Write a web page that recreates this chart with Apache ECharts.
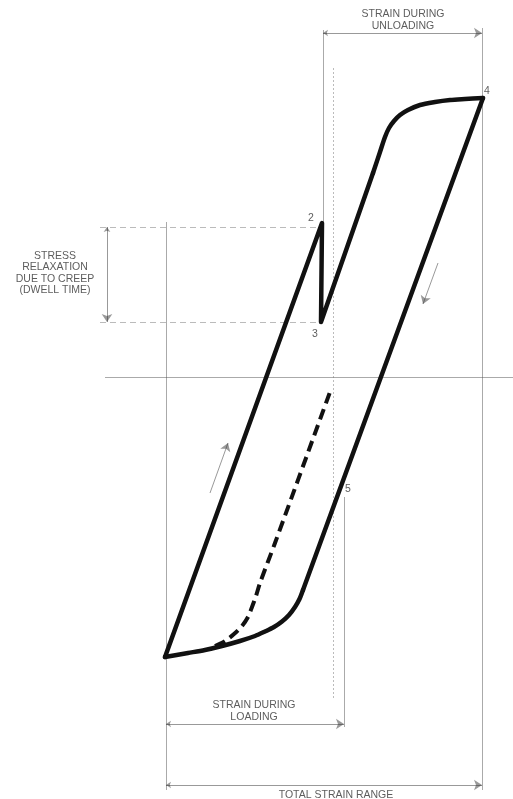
<!DOCTYPE html>
<html>
<head>
<meta charset="utf-8">
<script src="https://cdn.jsdelivr.net/npm/echarts@6/dist/echarts.min.js"></script>
<style>
  html, body { margin: 0; padding: 0; background: #fff; }
  #chart { width: 513px; height: 799px; }
</style>
</head>
<body>
<div id="chart"></div>
<script>
// Hysteresis loop with a creep dwell: strain (x) vs stress (y), arbitrary units.

// Loading branch from the compressive tip up to 2, relaxation 2 -> 3, reloading toward 4
const loadingBranch = [[-16.8, -28.0], [-1.1, 15.4], [-1.2, 5.5], [4.0, 20.4]];
// Knee rounding into the tensile tip 4
const upperKnee = [[4.0, 20.4], [4.7, 22.5], [5.2, 24.0], [5.6, 24.9], [6.1, 25.6], [6.7, 26.2],
                   [7.5, 26.7], [8.7, 27.2], [10.2, 27.5], [11.7, 27.7], [13.2, 27.8], [15.0, 27.9]];
// Unloading branch from 4 down, passing 5
const unloadingBranch = [[15.0, 27.9], [-3.0, -21.3]];
// Knee rounding back into the compressive tip
const lowerKnee = [[-3.0, -21.3], [-3.35, -22.2], [-3.8, -23.0], [-4.4, -23.8], [-5.1, -24.45], [-5.9, -25.0],
                   [-6.8, -25.45], [-7.8, -25.9], [-9.3, -26.4], [-11.1, -26.9], [-12.8, -27.3],
                   [-14.5, -27.6], [-16.8, -28.0]];
// Initial (first-cycle) curve, dashed
const initialCurve = [[-11.8, -26.9], [-10.8, -26.4], [-9.9, -25.7], [-9.1, -24.9], [-8.5, -24.0],
                      [-8.1, -23.0], [-7.7, -21.9], [-7.3, -20.6], [-5.8, -16.6], [-0.3, -1.5]];

// Reference / extension lines: [x1, y1, x2, y2, style]
const guideLines = [
  [-22.8, 0, 18.0, 0, 'solid'],          // zero-stress axis
  [-16.7, 15.5, -16.7, -41.3, 'solid'],  // left extent
  [-1.0, 34.7, -1.0, 15.5, 'solid'],     // start of unloading
  [0, 30.9, 0, -32.3, 'dotted'],         // zero-strain axis
  [1.1, -12.0, 1.1, -35.0, 'solid'],     // point 5 drop line
  [14.9, 34.9, 14.9, -41.3, 'solid'],    // right extent
  [-23.3, 15.0, -1.5, 15.0, 'dashed'],   // stress at 2
  [-23.3, 5.5, -1.7, 5.5, 'dashed']      // stress at 3
];
// Dimension arrows: [x1, y1, x2, y2, double-headed]
const dimensionArrows = [
  [-22.6, 15.0, -22.6, 5.5, true],   // stress relaxation
  [-1.0, 34.4, 14.9, 34.4, true],    // strain during unloading
  [-16.7, -34.7, 1.1, -34.7, true],  // strain during loading
  [-16.7, -40.8, 14.9, -40.8, true], // total strain range
  [-12.3, -11.6, -10.5, -6.6, false],// loading direction
  [10.5, 11.4, 9.0, 7.3, false]      // unloading direction
];

// Text annotations: [x, y, text]
const annotations = [
  [7.0, 35.7, 'STRAIN DURING\nUNLOADING'],
  [-27.8, 10.4, 'STRESS\nRELAXATION\nDUE TO CREEP\n(DWELL TIME)'],
  [-7.9, -33.4, 'STRAIN DURING\nLOADING'],
  [0.3, -41.8, 'TOTAL STRAIN RANGE'],
  [-2.2, 15.9, '2'],
  [-1.8, 4.3, '3'],
  [15.4, 28.6, '4'],
  [1.5, -11.2, '5']
];

const ink = '#111';
const thin = '#555';

function loopSeries(data, smooth) {
  return {
    type: 'line', data: data, smooth: smooth, showSymbol: false, symbol: 'none',
    silent: true, z: 5,
    lineStyle: { color: ink, width: 4.5, cap: 'round', join: 'round' }
  };
}

const option = {
  animation: false,
  grid: { left: 0, right: 0, top: 0, bottom: 0 },
  xAxis: { type: 'value', min: -33.3, max: 18.0, show: false },
  yAxis: { type: 'value', min: -42.2, max: 37.7, show: false },
  series: [
    {
      type: 'lines', coordinateSystem: 'cartesian2d', silent: true, z: 2,
      data: guideLines.map(g => ({
        coords: [[g[0], g[1]], [g[2], g[3]]],
        lineStyle: {
          color: g[4] === 'solid' ? thin : '#777',
          width: 1,
          type: g[4] === 'dotted' ? [2, 2] : (g[4] === 'dashed' ? [6, 4] : 'solid')
        }
      })),
      symbol: 'none'
    },
    {
      type: 'lines', coordinateSystem: 'cartesian2d', silent: true, z: 3,
      data: dimensionArrows.map(a => ({
        coords: [[a[0], a[1]], [a[2], a[3]]],
        symbol: a[4] ? ['arrow', 'arrow'] : ['none', 'arrow']
      })),
      symbolSize: [5, 8],
      lineStyle: { color: '#333', width: 1 }
    },
    loopSeries(loadingBranch, false),
    loopSeries(upperKnee, 0.3),
    loopSeries(unloadingBranch, false),
    loopSeries(lowerKnee, 0.3),
    {
      type: 'line', data: initialCurve, smooth: 0.3, showSymbol: false, symbol: 'none',
      silent: true, z: 4,
      lineStyle: { color: ink, width: 4, type: [11, 6], join: 'round' }
    },
    {
      type: 'scatter', symbolSize: 0, silent: true, z: 6,
      data: annotations.map(t => ({ value: [t[0], t[1]], name: t[2] })),
      label: {
        show: true, position: 'inside',
        formatter: p => p.name,
        color: '#333', fontFamily: 'Liberation Sans, Arial, sans-serif',
        fontSize: 10.5, lineHeight: 11.5, align: 'center', verticalAlign: 'middle'
      }
    }
  ]
};

const chart = echarts.init(document.getElementById('chart'), null, { renderer: 'canvas' });
chart.setOption(option);
</script>
</body>
</html>
